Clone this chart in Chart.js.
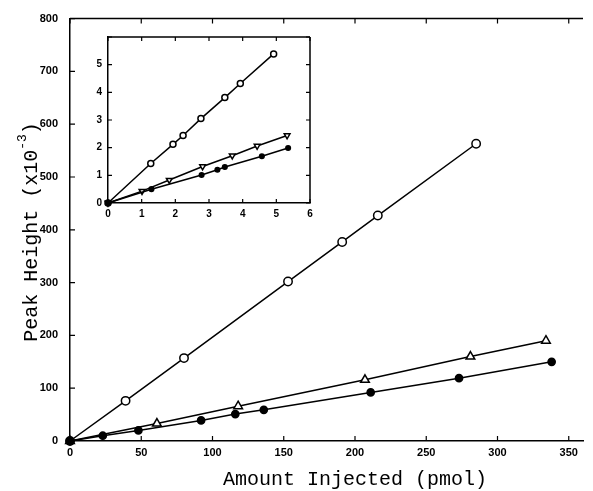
<!DOCTYPE html>
<html>
<head>
<meta charset="utf-8">
<title>Peak height vs amount injected</title>
<script src="https://cdn.jsdelivr.net/npm/chart.js@4.4.1/dist/chart.umd.min.js"></script>
<style>
  body { margin: 0; background: #fff; }
  #wrap { position: relative; width: 593px; height: 491px; }
  canvas { display: block; }
  #inset { position: absolute; left: 80px; top: 25px; }
</style>
</head>
<body>
<div id="wrap">
  <canvas id="main" width="593" height="491"></canvas>
  <canvas id="inset" width="240" height="200"></canvas>
</div>
<script>

/*****************************/
/*********** DATI ************/
/*****************************/

// grafico principale (pmol / picco x10^-3)
var openX = [0, 39, 80, 153, 191, 216, 285];
var openY = [0, 76, 157, 302, 377, 427, 563];

var triX = [0, 61, 118, 207, 281, 334];
var triY = [0, 33, 66, 116, 160, 190];

var dotX = [0, 23, 48, 92, 116, 136, 211, 273, 338];
var dotY = [0, 10, 20, 39, 51, 59, 92, 119, 150];

var mainXTicks = [0, 50, 100, 150, 200, 250, 300, 350];
var mainYTicks = [0, 100, 200, 300, 400, 500, 600, 700, 800];

// riquadro interno (zoom vicino all'origine)
var insetOpenX = [0, 1.27, 1.93, 2.23, 2.76, 3.47, 3.93, 4.92];
var insetOpenY = [0, 1.43, 2.12, 2.44, 3.05, 3.81, 4.32, 5.39];

var insetTriX = [0, 1.01, 1.82, 2.81, 3.69, 4.43, 5.32];
var insetTriY = [0, 0.43, 0.83, 1.32, 1.71, 2.06, 2.44];

var insetDotX = [0, 1.29, 2.78, 3.25, 3.47, 4.57, 5.35];
var insetDotY = [0, 0.5, 1.01, 1.2, 1.3, 1.69, 1.99];

var insetXTicks = [0, 1, 2, 3, 4, 5, 6];
var insetYTicks = [0, 1, 2, 3, 4, 5, 6];

/*****************************/
/********* FUNZIONI **********/
/*****************************/

function pointsOf(xs, ys) {
  return xs.map(function (x, i) {
    return { x: x, y: ys[i] };
  });
}

function series(xs, ys, style, radius, filled, rotation) {
  return {
    data: pointsOf(xs, ys),
    showLine: true,
    borderColor: '#000',
    borderWidth: 1.5,
    pointStyle: style,
    pointRadius: radius,
    pointRotation: rotation || 0,
    pointBorderWidth: 1.5,
    pointBorderColor: '#000',
    pointBackgroundColor: filled ? '#000' : '#fff',
    tension: 0,
    clip: false
  };
}

function keepTicks(values) {
  return function (scale) {
    scale.ticks = values.map(function (v) { return { value: v }; });
  };
}

// linee del riquadro e tacche rivolte verso l'interno
var framePlugin = {
  id: 'frame',
  afterDatasetsDraw: function (chart, args, opts) {
    var ctx = chart.ctx;
    var a = chart.chartArea;
    var xs = chart.scales.x;
    var ys = chart.scales.y;
    var len = opts.tick;

    ctx.save();
    ctx.strokeStyle = '#000';
    ctx.lineWidth = 1.5;
    ctx.beginPath();
    ctx.moveTo(a.left, a.top);
    ctx.lineTo(a.right, a.top);
    if (opts.right) {
      ctx.moveTo(a.right, a.top);
      ctx.lineTo(a.right, a.bottom);
    }
    ctx.stroke();

    ctx.lineWidth = 1.2;
    ctx.beginPath();
    xs.ticks.forEach(function (t) {
      var px = xs.getPixelForValue(t.value);
      ctx.moveTo(px, a.bottom);
      ctx.lineTo(px, a.bottom - len);
      ctx.moveTo(px, a.top);
      ctx.lineTo(px, a.top + len);
    });
    ys.ticks.forEach(function (t) {
      var py = ys.getPixelForValue(t.value);
      ctx.moveTo(a.left, py);
      ctx.lineTo(a.left + len, py);
      if (opts.right) {
        ctx.moveTo(a.right, py);
        ctx.lineTo(a.right - len, py);
      }
    });
    ctx.stroke();
    ctx.restore();
  }
};

// titoli degli assi, con l'esponente "-3" in apice
var titlePlugin = {
  id: 'titles',
  afterDraw: function (chart) {
    var ctx = chart.ctx;
    var font = '20px "Liberation Mono", "DejaVu Sans Mono", monospace';
    var small = '13px "Liberation Mono", "DejaVu Sans Mono", monospace';

    ctx.save();
    ctx.fillStyle = '#000';
    ctx.textBaseline = 'middle';
    ctx.textAlign = 'center';
    ctx.font = font;
    ctx.fillText('Amount Injected (pmol)', 355, 480);

    ctx.translate(32, 232);
    ctx.rotate(-Math.PI / 2);
    var part1 = 'Peak Height (x10';
    var sup = '-3';
    var part2 = ')';
    ctx.font = font;
    var w1 = ctx.measureText(part1).width;
    var w3 = ctx.measureText(part2).width;
    ctx.font = small;
    var w2 = ctx.measureText(sup).width;
    var start = -(w1 + w2 + w3) / 2;

    ctx.textAlign = 'left';
    ctx.font = font;
    ctx.fillText(part1, start, 0);
    ctx.font = small;
    ctx.fillText(sup, start + w1, -9);
    ctx.font = font;
    ctx.fillText(part2, start + w1 + w2, 0);
    ctx.restore();
  }
};

function axis(min, max, values, fontSize, pad, fit, hideLabel) {
  return {
    type: 'linear',
    min: min,
    max: max,
    afterBuildTicks: keepTicks(values),
    afterFit: fit,
    grid: { display: false, drawTicks: false },
    border: { display: true, color: '#000', width: 1.5 },
    ticks: {
      padding: pad,
      color: '#000',
      font: { family: '"Liberation Sans", Arial, sans-serif', weight: 'bold', size: fontSize },
      callback: function (v) {
        return v === hideLabel ? '' : v;
      }
    }
  };
}

/*****************************/
/********* PROGRAMMA *********/
/*****************************/

// i dataset con indice piu basso vengono disegnati sopra:
// il pallino pieno va per primo cosi copre l'origine
var mainChart = new Chart(document.getElementById('main'), {
  type: 'scatter',
  data: {
    datasets: [
      series(dotX, dotY, 'circle', 3.6, true),
      series(triX, triY, 'triangle', 5, false),
      series(openX, openY, 'circle', 4.2, false)
    ]
  },
  options: {
    responsive: false,
    animation: false,
    layout: { padding: { left: 0, right: 10, top: 15, bottom: 0 } },
    plugins: {
      legend: { display: false },
      tooltip: { enabled: false },
      frame: { tick: 5, right: false }
    },
    scales: {
      x: axis(0, 360, mainXTicks, 11, 5, function (s) { s.height = 50; }),
      y: axis(0, 800, mainYTicks, 11, 12, function (s) { s.width = 70; })
    }
  },
  plugins: [framePlugin, titlePlugin]
});

var insetChart = new Chart(document.getElementById('inset'), {
  type: 'scatter',
  data: {
    datasets: [
      series(insetDotX, insetDotY, 'circle', 2.3, true),
      series(insetTriX, insetTriY, 'triangle', 3.3, false, 180),
      series(insetOpenX, insetOpenY, 'circle', 3, false)
    ]
  },
  options: {
    responsive: false,
    animation: false,
    layout: { padding: { left: 0, right: 10, top: 10, bottom: 0 } },
    plugins: {
      legend: { display: false },
      tooltip: { enabled: false },
      frame: { tick: 4, right: true }
    },
    scales: {
      x: axis(0, 6, insetXTicks, 10, 5, function (s) { s.height = 22; }),
      y: axis(0, 6, insetYTicks, 10, 6, function (s) { s.width = 28; }, 6)
    }
  },
  plugins: [framePlugin]
});

</script>
</body>
</html>
